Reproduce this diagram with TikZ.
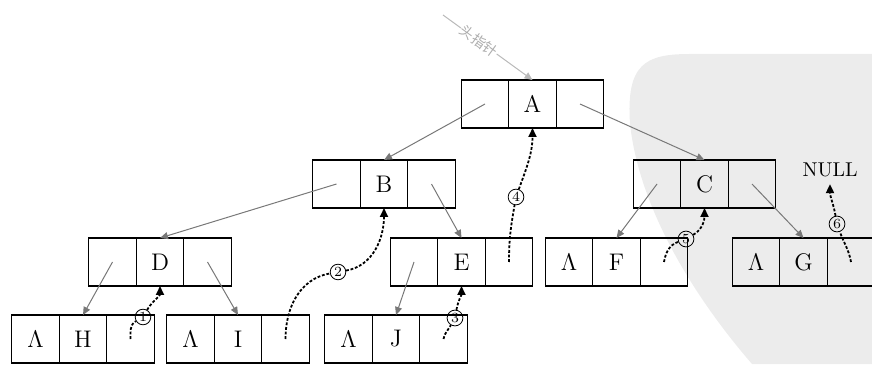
\documentclass[tikz,border=0pt]{standalone}
\usepackage{fontspec}
\usepackage{xcolor}
\usepackage{tikz}
\usetikzlibrary{arrows.meta, positioning}
\newfontfamily\cjk{Noto Sans CJK SC}
\definecolor{ptrG}{RGB}{120,120,120}
\definecolor{wmG}{RGB}{236,236,236}
\tikzset{cell/.style={draw, line width=0.7pt, minimum width=23.75pt, minimum height=24pt,
  inner sep=0pt, outer sep=0pt, font=\large},
  childptr/.style={-{Triangle[length=4pt, width=3.5pt]}, ptrG, line width=0.5pt},
  thread/.style={-{Triangle[length=4.5pt, width=4pt]}, line width=0.9pt, dash pattern=on 1.4pt off 0.9pt},
  numc/.style={circle, draw, line width=0.4pt, inner sep=0.6pt, minimum size=7pt, font=\scriptsize}}

\begin{document}
\begin{tikzpicture}[x=0.5pt, y=0.5pt]
\useasboundingbox (0,0) rectangle (872,364);
% ===== watermark in the background =====
\fill[wmG] (872,310) -- (872,0) -- (752,0) .. controls (700,60) and (640,150) .. (630,240)
  .. controls (626,300) and (645,310) .. (690,310) -- cycle;
% ===== tree nodes: left pointer | data | right pointer =====
\foreach \n/\x/\y/\l in {A/532.5/260/, B/384/180/, C/704.5/180/, D/160/102/, E/461.5/102/,
  F/616.5/102/$\Lambda$, G/803.5/102/$\Lambda$, H/83/25/$\Lambda$, I/238/25/$\Lambda$, J/396/25/$\Lambda$}{
  \node[cell] (\n) at (\x,\y) {\n};
  \node[cell, left=0pt of \n] (\n-l) {\l};
  \node[cell, right=0pt of \n] (\n-r) {};
}
\node[font=\normalsize] (null) at (830,194) {NULL};
% ===== head pointer =====
\coordinate (head) at (443,349);
\draw[childptr, gray!55] (head) -- (A.north) node[pos=0.4, sloped, fill=white, inner sep=0.5pt, font=\cjk\scriptsize, text=gray!65] {头指针};
% ===== child pointers =====
\foreach \p/\c in {A-l/B, A-r/C, B-l/D, B-r/E, C-l/F, C-r/G, D-l/H, D-r/I, E-l/J}{
  \draw[childptr] (\p.center) -- (\c.north);
}
% ===== threads with their order =====
\node[numc] (c1) at (143,47) {1};
\node[numc] (c2) at (338,92) {2};
\node[numc] (c3) at (455,46) {3};
\node[numc] (c4) at (516,167) {4};
\node[numc] (c5) at (686,125) {5};
\node[numc] (c6) at (837,140) {6};
\draw[thread] (H-r.center) to[out=90, in=-150] (c1) to[out=60, in=-90] (D.south);
\draw[thread] (I-r.center) to[out=90, in=190] (c2) to[out=10, in=-90] (B.south);
\draw[thread] (J-r.center) to[out=80, in=-120] (c3) to[out=80, in=-90] (E.south);
\draw[thread] (E-r.center) to[out=90, in=-100] (c4) to[out=70, in=-90] (A.south);
\draw[thread] (F-r.center) to[out=80, in=-160] (c5) to[out=30, in=-90] (C.south);
\draw[thread] (G-r.center) to[out=100, in=-70] (c6) to[out=100, in=-90] (null.south);
\end{tikzpicture}
\end{document}
